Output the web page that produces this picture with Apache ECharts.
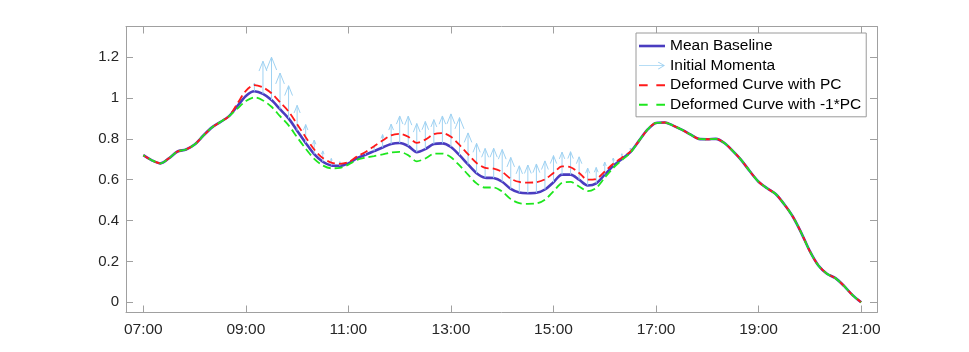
<!DOCTYPE html>
<html>
<head>
<meta charset="utf-8">
<script src="https://cdn.jsdelivr.net/npm/echarts@6/dist/echarts.min.js"></script>
<style>
  html, body { margin: 0; padding: 0; background: #fff; }
  #main { width: 969px; height: 352px; }
</style>
</head>
<body>
<div id="main"></div>
<script>
// samples every 10 minutes from 07:00 to 21:00
var startHour = 7;
var stepMinutes = 10;

var baseline = [
  0.72, 0.695, 0.68, 0.705, 0.738, 0.748, 0.772, 0.815, 0.855, 0.882,
  0.91, 0.96, 1.01, 1.033, 1.02, 0.99, 0.945, 0.9, 0.84, 0.78,
  0.725, 0.688, 0.67, 0.668, 0.68, 0.705, 0.722, 0.74, 0.758, 0.775,
  0.78, 0.765, 0.735, 0.75, 0.775, 0.778, 0.76, 0.72, 0.675, 0.632,
  0.61, 0.608, 0.59, 0.555, 0.537, 0.534, 0.536, 0.552, 0.588, 0.625,
  0.625, 0.6, 0.572, 0.582, 0.625, 0.668, 0.702, 0.735, 0.79, 0.845,
  0.878, 0.88, 0.865, 0.845, 0.822, 0.8, 0.798, 0.8, 0.78, 0.74,
  0.695, 0.64, 0.59, 0.558, 0.53, 0.48, 0.42, 0.34, 0.25, 0.18,
  0.14, 0.118, 0.08, 0.035, 0.0
];

// principal component offset (red = mean + pc, green = mean - pc)
var pc = [
  0, 0, 0, 0, 0, 0, 0, 0, 0, 0,
  0, 0.012, 0.025, 0.03, 0.032, 0.033, 0.034, 0.034, 0.032, 0.028,
  0.023, 0.018, 0.014, 0.01, 0.006, 0.008, 0.014, 0.024, 0.034, 0.042,
  0.044, 0.045, 0.045, 0.046, 0.048, 0.05, 0.05, 0.05, 0.05, 0.05,
  0.048, 0.046, 0.048, 0.05, 0.052, 0.052, 0.052, 0.05, 0.045, 0.04,
  0.036, 0.033, 0.028, 0.022, 0.015, 0.01, 0.006, 0.003, 0, 0,
  0, 0, 0, 0, 0, 0, 0, 0, 0, 0,
  0, 0, 0, 0, 0, 0, 0, 0, 0, 0,
  0, 0, 0, 0, 0
];

// arrow lengths of the initial momenta
var momenta = [
  0, 0, 0, 0, 0, 0, 0, 0, 0, 0,
  0, 0, 0, 0.04, 0.16, 0.21, 0.177, 0.16, 0.124, 0.09,
  0.069, 0.053, 0.034, 0.02, 0, 0, 0.008, 0.023, 0.063, 0.097,
  0.132, 0.146, 0.14, 0.135, 0.119, 0.134, 0.162, 0.184, 0.154, 0.146,
  0.143, 0.146, 0.158, 0.154, 0.131, 0.138, 0.141, 0.14, 0.13, 0.11,
  0.112, 0.112, 0.085, 0.078, 0.061, 0.038, 0.025, 0.02, 0, 0,
  0, 0, 0, 0, 0, 0, 0, 0, 0, 0,
  0, 0, 0, 0, 0, 0, 0, 0, 0, 0,
  0, 0, 0, 0, 0
];

var xTickValues = [7, 9, 11, 13, 15, 17, 19, 21];
var xTickLabels = ['07:00', '09:00', '11:00', '13:00', '15:00', '17:00', '19:00', '21:00'];
var yTickValues = [0, 0.2, 0.4, 0.6, 0.8, 1, 1.2];
var yTickLabels = ['0', '0.2', '0.4', '0.6', '0.8', '1', '1.2'];

var hours = baseline.map(function (v, i) { return startHour + i * stepMinutes / 60; });

var meanData = [], plusData = [], minusData = [], arrowData = [];
for (var i = 0; i < baseline.length; i++) {
  meanData.push([hours[i], baseline[i]]);
  plusData.push([hours[i], baseline[i] + pc[i]]);
  minusData.push([hours[i], baseline[i] - pc[i]]);
  if (momenta[i] > 0) arrowData.push([hours[i], baseline[i], baseline[i] + momenta[i]]);
}

var axisColor = '#a0a0a0';
var labelColor = '#262626';
var font = 'Liberation Sans, Arial, Helvetica, sans-serif';
var arrowColor = '#9fd2f2';
var blue = '#4a3cc0', red = '#ff1a1a', green = '#1ee61e';

// legend glyphs (kept to aspect by the legend)
var solidIcon = 'path://M0,0H26V2.6H0Z';
var dashIcon = 'path://M0,0H8V1.8H0Z M16,0H24V1.8H16Z';
var arrowIcon = 'path://M0,4.6H22V5.4H0Z M17.2,1.6L23,5L17.2,8.4L16.8,7.8L21.6,5L16.8,2.2Z';

function xAxisCfg(pos, showLabel) {
  return {
    type: 'value', position: pos, min: 6.662, max: 21.31,
    axisLine: { show: true, onZero: false, lineStyle: { color: axisColor, width: 1 } },
    axisTick: { show: true, inside: true, length: 7, customValues: xTickValues, lineStyle: { color: axisColor } },
    axisLabel: {
      show: showLabel, customValues: xTickValues, margin: 9,
      color: labelColor, fontSize: 15.5, fontFamily: font,
      formatter: function (v) { return xTickLabels[xTickValues.indexOf(v)]; }
    },
    splitLine: { show: false }
  };
}
function yAxisCfg(pos, showLabel) {
  return {
    type: 'value', position: pos, min: -0.05, max: 1.35,
    axisLine: { show: true, onZero: false, lineStyle: { color: axisColor, width: 1 } },
    axisTick: { show: true, inside: true, length: 7, customValues: yTickValues, lineStyle: { color: axisColor } },
    axisLabel: {
      show: showLabel, customValues: yTickValues, margin: 7,
      color: labelColor, fontSize: 15, fontFamily: font,
      formatter: function (v) {
        for (var k = 0; k < yTickValues.length; k++) {
          if (Math.abs(yTickValues[k] - v) < 1e-6) return yTickLabels[k];
        }
        return '';
      }
    },
    splitLine: { show: false }
  };
}

var chart = echarts.init(document.getElementById('main'));
var option = {
  animation: false,
  backgroundColor: '#fff',
  grid: { left: 126, right: 92, top: 26.5, bottom: 39.5, containLabel: false },
  xAxis: [xAxisCfg('bottom', true), xAxisCfg('top', false)],
  yAxis: [yAxisCfg('left', true), yAxisCfg('right', false)],
  legend: {
    orient: 'vertical',
    left: 636, top: 33,
    padding: [5, 5, 4, 3],
    itemWidth: 26, itemHeight: 14, itemGap: 3.6,
    symbolKeepAspect: true,
    backgroundColor: '#fff',
    borderColor: '#9a9a9a', borderWidth: 1, borderRadius: 0,
    textStyle: { color: '#000', fontSize: 15.5, fontFamily: font },
    data: [
      { name: 'Mean Baseline', icon: solidIcon, itemStyle: { color: blue } },
      { name: 'Initial Momenta', icon: arrowIcon, itemStyle: { color: arrowColor } },
      { name: 'Deformed Curve with PC', icon: dashIcon, itemStyle: { color: red } },
      { name: 'Deformed Curve with -1*PC', icon: dashIcon, itemStyle: { color: green } }
    ]
  },
  series: [
    {
      name: 'Mean Baseline', type: 'line', data: meanData, symbol: 'none', smooth: 0.3,
      color: blue,
      lineStyle: { color: blue, width: 2.6 }, z: 2
    },
    {
      name: 'Initial Momenta', type: 'custom', data: arrowData, z: 3,
      color: arrowColor,
      encode: { x: 0, y: [1, 2] },
      renderItem: function (params, api) {
        var p0 = api.coord([api.value(0), api.value(1)]);
        var p1 = api.coord([api.value(0), api.value(2)]);
        var len = p0[1] - p1[1];
        var hl = len * 0.3, hw = len * 0.12;
        var st = { stroke: arrowColor, fill: null, lineWidth: 1 };
        return {
          type: 'group',
          children: [
            { type: 'line', shape: { x1: p0[0], y1: p0[1], x2: p1[0], y2: p1[1] }, style: st },
            { type: 'polyline', shape: { points: [[p1[0] - hw, p1[1] + hl], [p1[0], p1[1]], [p1[0] + hw, p1[1] + hl]] }, style: st }
          ]
        };
      }
    },
    {
      name: 'Deformed Curve with PC', type: 'line', data: plusData, symbol: 'none', smooth: 0.3,
      color: red,
      lineStyle: { color: red, width: 1.8, type: [8, 4] }, z: 4
    },
    {
      name: 'Deformed Curve with -1*PC', type: 'line', data: minusData, symbol: 'none', smooth: 0.3,
      color: green,
      lineStyle: { color: green, width: 1.8, type: [8, 4], dashOffset: 6 }, z: 5
    }
  ]
};
chart.setOption(option);
</script>
</body>
</html>
